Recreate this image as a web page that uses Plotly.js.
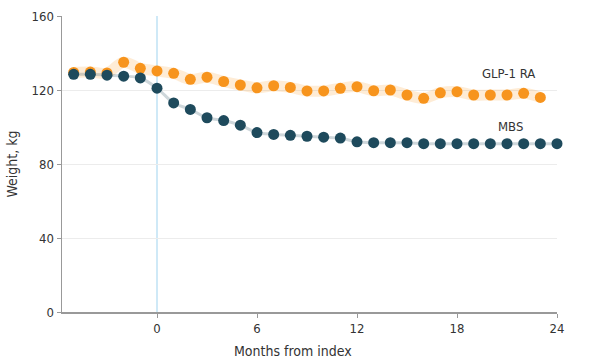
<!DOCTYPE html>
<html>
<head>
<meta charset="utf-8">
<script src="https://cdn.plot.ly/plotly-3.0.1.min.js"></script>
<style>html,body{margin:0;padding:0;background:#fff;}#chart{width:602px;height:362px;}</style>
</head>
<body>
<div id="chart"></div>
<script>
var monthsMBS = [-5,-4,-3,-2,-1,0,1,2,3,4,5,6,7,8,9,10,11,12,13,14,15,16,17,18,19,20,21,22,23,24];
var weightMBS = [128.5,128.5,128,127.5,126.5,121,113,109.5,105,103.5,101,97,96,95.5,95,94.5,94,92,91.5,91.5,91.5,91,91,91,91,91,91,91,91,91];
var monthsGLP = [-5,-4,-3,-2,-1,0,1,2,3,4,5,6,7,8,9,10,11,12,13,14,15,16,17,18,19,20,21,22,23];
var weightGLP = [129.5,129.7,129.2,135,131.7,130.3,129,125.8,126.9,124.6,122.7,121.2,122.3,121.4,119.5,119.5,120.9,121.8,119.6,120,117.3,115.5,118.5,119.1,117.3,117.3,117.3,118.2,116];
var xTicks = [0,6,12,18,24];
var yTicks = [0,40,80,120,160];
var seriesNames = ['GLP-1 RA','MBS'];
var indexMonth = 0;

var orange = '#f7941d';
var teal = '#1e4a5c';
var fontFam = '"Liberation Sans Narrow", "DejaVu Sans Condensed", "Roboto", sans-serif';

var traces = [
  {x: monthsGLP, y: weightGLP, mode: 'lines', line: {color: 'rgba(247,148,29,0.18)', width: 11, shape: 'spline'}, hoverinfo: 'skip', showlegend: false, cliponaxis: false},
  {x: monthsMBS, y: weightMBS, mode: 'lines', line: {color: 'rgba(30,74,92,0.22)', width: 3, shape: 'spline'}, hoverinfo: 'skip', showlegend: false, cliponaxis: false},
  {x: monthsGLP, y: weightGLP, mode: 'markers', name: seriesNames[0], marker: {color: orange, size: 11}, showlegend: false, cliponaxis: false},
  {x: monthsMBS, y: weightMBS, mode: 'markers', name: seriesNames[1], marker: {color: teal, size: 11}, showlegend: false, cliponaxis: false}
];

var margin = {l: 62, r: 45, t: 16, b: 50};
var plotW = 602 - margin.l - margin.r;
var plotH = 362 - margin.t - margin.b;

var layout = {
  width: 602, height: 362,
  margin: margin,
  paper_bgcolor: '#fff', plot_bgcolor: '#fff',
  font: {family: fontFam, size: 13, color: '#333'},
  xaxis: {
    range: [-5.7, 24], tickvals: xTicks, ticktext: xTicks.map(String),
    showgrid: false, zeroline: false, showline: true, linecolor: '#999', linewidth: 1.5,
    ticks: 'outside', ticklen: 4, tickcolor: '#999'
  },
  yaxis: {
    range: [0, 160], tickvals: yTicks, ticktext: yTicks.map(String),
    showgrid: true, gridcolor: '#ececec', zeroline: false, showline: true, linecolor: '#999', linewidth: 1.5,
    ticks: 'outside', ticklen: 4, tickcolor: '#999',
    title: {text: 'Weight, kg', font: {size: 14, color: '#333'}, standoff: 10}
  },
  shapes: [
    {type: 'line', xref: 'x', yref: 'paper', x0: indexMonth, x1: indexMonth, y0: 0, y1: 1, line: {color: '#bfe2f4', width: 1.5}, layer: 'below'}
  ],
  annotations: [
    {x: 21.1, y: 129, xref: 'x', yref: 'y', text: seriesNames[0], showarrow: false, font: {size: 13, color: '#333'}},
    {x: 21.2, y: 100.5, xref: 'x', yref: 'y', text: seriesNames[1], showarrow: false, font: {size: 13, color: '#333'}},
    {x: (293 - margin.l) / plotW, y: -(351 - (362 - margin.b)) / plotH, xref: 'paper', yref: 'paper', xanchor: 'center', yanchor: 'middle', text: 'Months from index', showarrow: false, font: {size: 14, color: '#333'}}
  ]
};

Plotly.newPlot('chart', traces, layout, {displayModeBar: false, staticPlot: true});
</script>
</body>
</html>
